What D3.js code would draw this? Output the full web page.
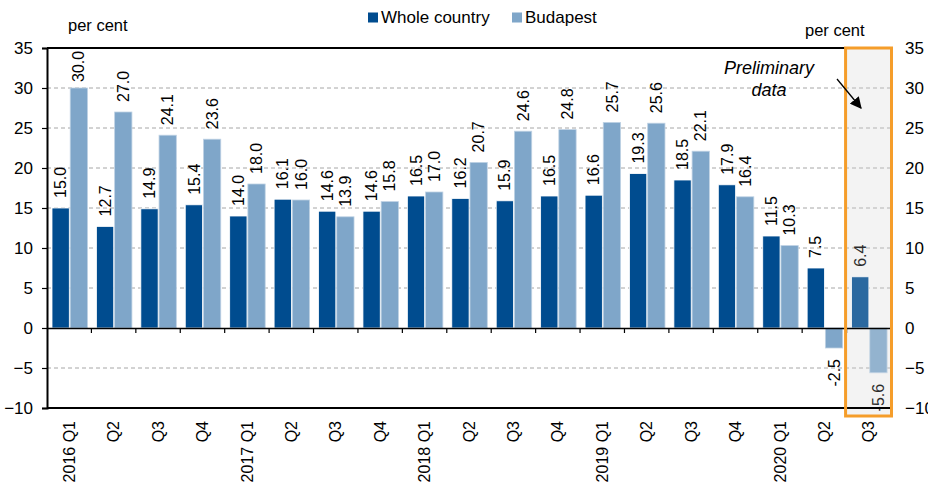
<!DOCTYPE html>
<html>
<head>
<meta charset="utf-8">
<script src="https://cdn.jsdelivr.net/npm/d3@7/dist/d3.min.js"></script>
<style>
  html, body { margin: 0; padding: 0; background: #fff; }
  svg { display: block; font-family: "Liberation Sans", Arial, sans-serif; }
</style>
</head>
<body>
<svg id="chart" width="928" height="486"></svg>
<script>
const categories = ["2016 Q1","Q2","Q3","Q4","2017 Q1","Q2","Q3","Q4","2018 Q1","Q2","Q3","Q4","2019 Q1","Q2","Q3","Q4","2020 Q1","Q2","Q3"];
const wholeCountry = [15.0,12.7,14.9,15.4,14.0,16.1,14.6,14.6,16.5,16.2,15.9,16.5,16.6,19.3,18.5,17.9,11.5,7.5,6.4];
const budapest = [30.0,27.0,24.1,23.6,18.0,16.0,13.9,15.8,17.0,20.7,24.6,24.8,25.7,25.6,22.1,16.4,10.3,-2.5,-5.6];
const seriesNames = ["Whole country","Budapest"];
const yTicks = [35,30,25,20,15,10,5,0,-5,-10];
const preliminaryIndex = 18;

(function () {
const colors = {"Whole country": "#004c8f", "Budapest": "#7fa6c9"};
const strokes = {"Whole country": "#ffffff", "Budapest": "#bfd2e4"};

const svg = d3.select("#chart");
const pLeft = 47, pRight = 891, pTop = 48, pBottom = 408;

const x0 = d3.scaleBand().domain(d3.range(categories.length)).range([pLeft, pRight]).padding(0);
const x1 = d3.scaleBand().domain(seriesNames).range([5, 40.5]).paddingInner(0.05);
const y = d3.scaleLinear().domain([-10, 35]).range([pBottom, pTop]);

const data = categories.map((c, i) => ({i, c, values: [
  {s: "Whole country", v: wholeCountry[i]},
  {s: "Budapest", v: budapest[i]}
]}));

// preliminary shaded background
const px0 = x0(preliminaryIndex), px1 = x0(preliminaryIndex) + x0.bandwidth();
svg.append("rect").attr("x", px0 - 1).attr("y", pTop).attr("width", px1 - px0 + 1).attr("height", pBottom + 8 - pTop)
  .attr("fill", "#f4f4f4");

// gridlines
svg.append("g").selectAll("line").data(yTicks.filter(t => t !== 35 && t !== -10 && t !== 0)).join("line")
  .attr("x1", pLeft).attr("x2", pRight).attr("y1", d => y(d)).attr("y2", d => y(d))
  .attr("stroke", "#a6a6a6").attr("stroke-width", 1).attr("stroke-dasharray", "4,3");

// bars
const groups = svg.append("g").selectAll("g").data(data).join("g")
  .attr("transform", d => `translate(${x0(d.i)},0)`);
groups.selectAll("rect").data(d => d.values).join("rect")
  .attr("x", d => x1(d.s)).attr("width", x1.bandwidth())
  .attr("y", d => y(Math.max(0, d.v))).attr("height", d => Math.abs(y(d.v) - y(0)))
  .attr("fill", d => colors[d.s]).attr("stroke", d => strokes[d.s]).attr("stroke-width", 0.8);

// overlay on preliminary
svg.append("rect").attr("x", px0 - 1).attr("y", pTop).attr("width", px1 - px0 + 1).attr("height", pBottom + 8 - pTop)
  .attr("fill", "#ececec").attr("opacity", 0.18);

// frame lines
svg.append("line").attr("x1", pLeft).attr("x2", px0 - 1).attr("y1", pTop).attr("y2", pTop).attr("stroke", "#000").attr("stroke-width", 2);
svg.append("line").attr("x1", pLeft).attr("x2", pRight).attr("y1", pBottom).attr("y2", pBottom).attr("stroke", "#000").attr("stroke-width", 2);

// left axis
const yAxisL = svg.append("g").attr("transform", `translate(${pLeft},0)`)
  .call(d3.axisLeft(y).tickValues(yTicks).tickSize(5).tickPadding(9).tickFormat(d3.format("d")));
yAxisL.select(".domain").attr("stroke", "#000").attr("stroke-width", 2);
yAxisL.selectAll(".tick line").attr("stroke", "#000").attr("stroke-width", 1.2);
yAxisL.selectAll("text").attr("font-size", 17).attr("fill", "#000").attr("font-family", "Liberation Sans, Arial, sans-serif");

// right axis labels
const yAxisR = svg.append("g").attr("transform", `translate(${pRight},0)`)
  .call(d3.axisRight(y).tickValues(yTicks).tickSize(0).tickPadding(14).tickFormat(d3.format("d")));
yAxisR.select(".domain").attr("stroke", "#a0a0a0").attr("stroke-width", 1);
yAxisR.selectAll("text").attr("font-size", 17).attr("fill", "#000").attr("font-family", "Liberation Sans, Arial, sans-serif");

// zero line with ticks
const xAxis = svg.append("g").attr("transform", `translate(0,${y(0)})`)
  .call(d3.axisBottom(x0).tickSize(0).tickFormat(""));
xAxis.select(".domain").attr("stroke", "#000").attr("stroke-width", 1.5);
svg.append("g").selectAll("line").data(d3.range(1, categories.length)).join("line")
  .attr("x1", d => x0(d)).attr("x2", d => x0(d)).attr("y1", y(0)).attr("y2", y(0) + 5)
  .attr("stroke", "#000").attr("stroke-width", 1.2);

// category labels
svg.append("g").selectAll("text").data(data).join("text")
  .attr("transform", d => `translate(${x0(d.i) + x0.bandwidth() / 2},${pBottom + 13}) rotate(-90)`)
  .attr("text-anchor", "end").attr("dy", "0.35em")
  .attr("font-size", 16).attr("fill", "#000").text(d => d.c);

// value labels
const labelFont = 16;
groups.selectAll("text").data(d => d.values).join("text")
  .attr("transform", d => {
    const cx = x1(d.s) + x1.bandwidth() / 2;
    let yy;
    if (d.v >= 0) {
      yy = y(d.v) - 10;
      const len = d.v.toFixed(1).length * labelFont * 0.5;
      if (yy - len < pTop + 2) yy = pTop + 2 + len;
    } else {
      yy = y(d.v) + 11;
    }
    return `translate(${cx},${yy}) rotate(-90)`;
  })
  .attr("text-anchor", d => d.v >= 0 ? "start" : "end")
  .attr("dy", "0.35em").attr("font-size", labelFont).attr("fill", "#000")
  .text(d => d.v.toFixed(1));

// orange box
svg.append("rect").attr("x", px0 - 1).attr("y", pTop).attr("width", px1 - px0 + 1.5).attr("height", pBottom + 8 - pTop)
  .attr("fill", "none").attr("stroke", "#f59d2a").attr("stroke-width", 3);

// unit labels
svg.append("text").attr("x", 68).attr("y", 31).attr("font-size", 16.5).attr("fill", "#000").text("per cent");
svg.append("text").attr("x", 805).attr("y", 36).attr("font-size", 16.5).attr("fill", "#000").text("per cent");

// legend
const legend = svg.append("g");
const legendX = [368, 512];
seriesNames.forEach((s, i) => {
  legend.append("rect").attr("x", legendX[i]).attr("y", 12.5).attr("width", 10).attr("height", 10).attr("fill", colors[s]);
  legend.append("text").attr("x", legendX[i] + 13).attr("y", 23).attr("font-size", 17).attr("fill", "#000").text(s);
});

// annotation
const ann = svg.append("text").attr("font-size", 18).attr("font-style", "italic").attr("text-anchor", "middle").attr("fill", "#000");
ann.append("tspan").attr("x", 769).attr("y", 74).text("Preliminary");
ann.append("tspan").attr("x", 769).attr("y", 96).text("data");

const defs = svg.append("defs");
defs.append("marker").attr("id", "arrow").attr("viewBox", "0 0 10 10").attr("refX", 9).attr("refY", 5)
  .attr("markerWidth", 9).attr("markerHeight", 9).attr("orient", "auto")
  .append("path").attr("d", "M0,0 L10,5 L0,10 Z").attr("fill", "#000");
svg.append("line").attr("x1", 837).attr("y1", 79).attr("x2", 861).attr("y2", 108)
  .attr("stroke", "#000").attr("stroke-width", 1.3).attr("marker-end", "url(#arrow)");
})();
</script>
</body>
</html>
